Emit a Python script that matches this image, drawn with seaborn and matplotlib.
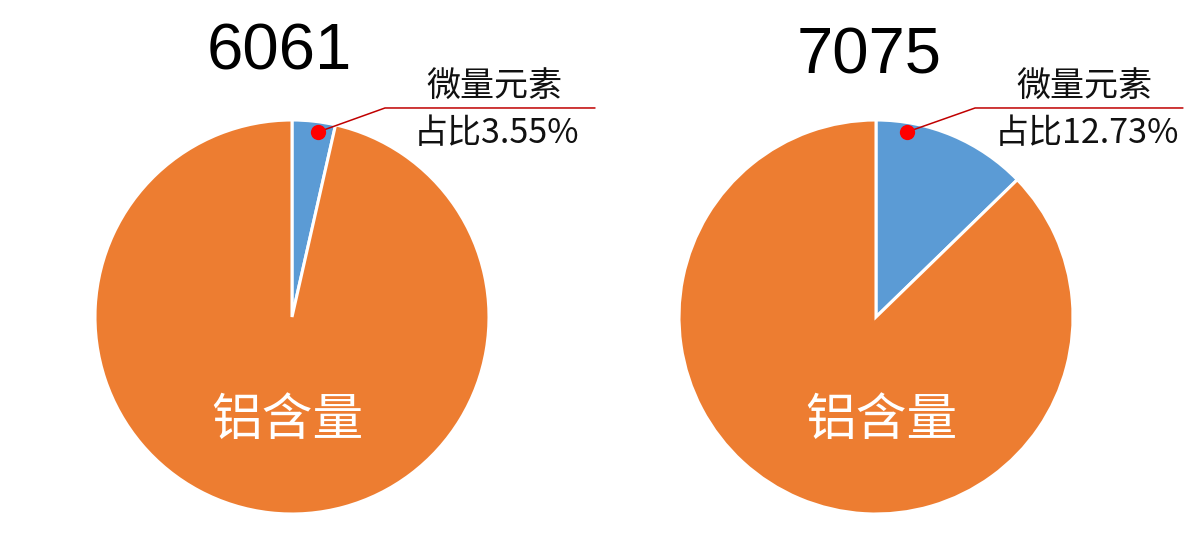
import matplotlib
matplotlib.use("Agg")
import matplotlib.pyplot as plt
import seaborn as sns

sns.set_theme(style="white")
plt.rcParams['font.family'] = ['Noto Sans CJK SC', 'DejaVu Sans']

# Data
alloys = ["6061", "7075"]
trace_share = [3.55, 12.73]
categories = ["微量元素", "铝含量"]
label_prefix = "占比"

colors = ["#5B9BD5", "#ED7D31"]

W, H = 1200, 552
fig = plt.figure(figsize=(W / 100, H / 100), dpi=100)

centers_px = [(292, 317), (876, 317)]
R = 197
title_pos = [(279, 53), (869, 56)]
dot_rel = [(0.132, 0.939), (0.157, 0.939)]
elbow_rel = [(0.472, 1.061), (0.503, 1.061)]
end_x_rel = [1.538, 1.558]
txt1_x = [1.03, 1.06]
txt2_x = [1.04, 1.07]
main_x = [-0.025, 0.028]

for i, alloy in enumerate(alloys):
    cx, cy = centers_px[i]
    ax = fig.add_axes([(cx - R) / W, (H - cy - R) / H, 2 * R / W, 2 * R / H])
    vals = [trace_share[i], 100 - trace_share[i]]
    ax.pie(vals, colors=colors, startangle=90, counterclock=False, radius=1,
           wedgeprops=dict(edgecolor="white", linewidth=2.2))
    ax.set_xlim(-1, 1)
    ax.set_ylim(-1, 1)
    ax.set_aspect("equal")
    ax.axis("off")

    # main label
    ax.text(main_x[i], -0.53, categories[1], color="white", fontsize=36.5,
            ha="center", va="center")

    # leader line
    dx, dy = dot_rel[i]
    ex, ey = elbow_rel[i]
    ax.plot([dx, ex, end_x_rel[i]], [dy, ey, ey], color="#C00000",
            linewidth=1.1, clip_on=False, zorder=5)
    ax.plot([dx], [dy], marker="o", markersize=11, color="#FF0000",
            markeredgewidth=0, clip_on=False, zorder=6)

    ax.text(txt1_x[i], 1.17, categories[0], fontsize=24.5, ha="center",
            va="center", color="#111111", clip_on=False)
    ax.text(txt2_x[i], 0.93, f"{label_prefix}{trace_share[i]:.2f}%", fontsize=24.5,
            ha="center", va="center", color="#111111", clip_on=False)

    tx, ty = title_pos[i]
    fig.text(tx / W, 1 - ty / H, alloy, fontsize=47, ha="center", va="center",
             family=["Liberation Sans", "DejaVu Sans"], color="black")

fig.savefig("out.png", dpi=100, facecolor="white")
